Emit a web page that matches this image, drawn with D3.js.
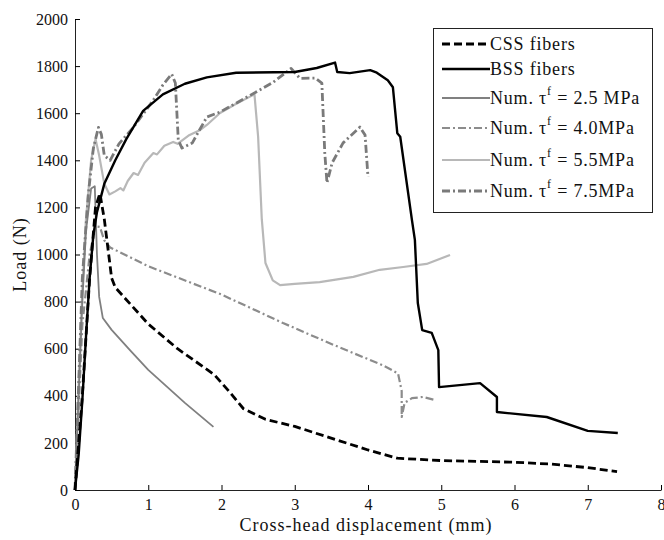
<!DOCTYPE html>
<html>
<head>
<meta charset="utf-8">
<script src="https://cdn.jsdelivr.net/npm/d3@7"></script>
<style>
  body { margin: 0; background: #fff; }
</style>
</head>
<body>
<div id="chart"></div>
<script>
// load-displacement curves, values (mm, N)
const cssFibers = [[0,0],[0.1,400],[0.2,900],[0.28,1200],[0.34,1260],[0.4,1150],[0.5,900],[0.55,860],[1.0,705],[1.4,600],[1.9,490],[2.1,420],[2.3,345],[2.6,300],[3.0,270],[3.6,210],[4.0,170],[4.4,135],[5.0,125],[6.0,118],[6.5,110],[7.0,95],[7.4,78]];
const bssFibers = [[0,0],[0.05,150],[0.1,380],[0.15,650],[0.2,900],[0.25,1080],[0.3,1180],[0.4,1300],[0.55,1400],[0.7,1490],[0.93,1610],[1.2,1680],[1.5,1725],[1.8,1752],[2.2,1772],[3.0,1775],[3.3,1792],[3.55,1815],[3.58,1775],[3.75,1770],[4.03,1783],[4.12,1772],[4.27,1740],[4.34,1710],[4.40,1515],[4.44,1500],[4.6,1146],[4.64,1062],[4.68,794],[4.74,679],[4.87,667],[4.96,594],[4.97,437],[5.53,454],[5.76,395],[5.76,331],[6.44,310],[7.0,251],[7.41,242]];
const num25 = [[0,0],[0.05,400],[0.1,800],[0.15,1100],[0.22,1280],[0.27,1290],[0.3,1000],[0.33,820],[0.38,730],[0.5,680],[0.75,594],[1.0,510],[1.5,370],[1.89,268]];
const num40 = [[0,0],[0.05,350],[0.1,700],[0.2,1000],[0.28,1120],[0.34,1117],[0.4,1060],[0.48,1030],[1.0,950],[2.0,830],[2.84,709],[3.5,620],[4.2,530],[4.41,495],[4.46,420],[4.46,310],[4.5,370],[4.6,390],[4.75,395],[4.9,383]];
const num55 = [[0,0],[0.05,450],[0.1,850],[0.15,1150],[0.22,1400],[0.28,1490],[0.33,1420],[0.4,1300],[0.47,1255],[0.55,1268],[0.62,1282],[0.66,1272],[0.72,1312],[0.8,1346],[0.86,1338],[0.95,1390],[1.07,1431],[1.12,1425],[1.22,1462],[1.34,1478],[1.4,1470],[1.55,1505],[1.71,1529],[1.8,1550],[1.98,1601],[2.2,1640],[2.45,1680],[2.5,1500],[2.55,1150],[2.6,964],[2.7,890],[2.8,870],[3.0,875],[3.34,883],[3.8,905],[4.16,935],[4.48,947],[4.8,960],[5.12,998]];
const num75 = [[0,0],[0.05,450],[0.1,900],[0.18,1250],[0.25,1450],[0.32,1540],[0.36,1510],[0.4,1420],[0.48,1400],[0.6,1470],[0.8,1541],[1.07,1656],[1.2,1720],[1.32,1766],[1.37,1728],[1.41,1486],[1.46,1452],[1.6,1473],[1.8,1584],[1.98,1605],[2.3,1660],[2.7,1730],[2.95,1790],[3.07,1748],[3.28,1749],[3.37,1728],[3.41,1431],[3.44,1304],[3.51,1389],[3.66,1474],[3.89,1541],[3.96,1507],[4.0,1329]];

const xTicks = [0,1,2,3,4,5,6,7,8];
const yTicks = [0,200,400,600,800,1000,1200,1400,1600,1800,2000];

const series = [
  { name: "CSS fibers", data: cssFibers, color: "#000", width: 2.8, dash: "8,4", tau: null },
  { name: "BSS fibers", data: bssFibers, color: "#000", width: 2.4, dash: null, tau: null },
  { name: "2.5 MPa", data: num25, color: "#808080", width: 1.8, dash: null, tau: "2.5 MPa" },
  { name: "4.0MPa", data: num40, color: "#8c8c8c", width: 2.2, dash: "8,3,2,3", tau: "4.0MPa" },
  { name: "5.5MPa", data: num55, color: "#b8b8b8", width: 2.2, dash: null, tau: "5.5MPa" },
  { name: "7.5MPa", data: num75, color: "#7a7a7a", width: 2.8, dash: "8,3,2,3", tau: "7.5MPa" }
];

const FONT = "'Liberation Serif', 'Times New Roman', serif";
const width = 664, height = 540;
const margin = { top: 19, right: 3, bottom: 50, left: 75 };

const svg = d3.select("#chart").append("svg")
  .attr("width", width)
  .attr("height", height)
  .attr("font-family", FONT);

const x = d3.scaleLinear().domain([0, 8]).range([margin.left, width - margin.right]);
const y = d3.scaleLinear().domain([0, 2000]).range([height - margin.bottom, margin.top]);

const line = d3.line().x(d => x(d[0])).y(d => y(d[1]));

// axes, ticks pointing inwards like the original
svg.append("g")
  .attr("transform", `translate(0,${y(0)})`)
  .call(d3.axisBottom(x).tickValues(xTicks).tickFormat(d3.format("d")).tickSizeInner(-5).tickSizeOuter(0).tickPadding(9))
  .call(g => g.attr("font-family", FONT))
  .call(g => g.selectAll("text").style("font-size", "16px").attr("fill", "#111"))
  .call(g => g.select(".domain").attr("stroke", "#222"));

svg.append("g")
  .attr("transform", `translate(${x(0)},0)`)
  .call(d3.axisLeft(y).tickValues(yTicks).tickFormat(d3.format("d")).tickSizeInner(-5).tickSizeOuter(0).tickPadding(7))
  .call(g => g.attr("font-family", FONT))
  .call(g => g.selectAll("text").style("font-size", "16px").attr("fill", "#111"))
  .call(g => g.select(".domain").attr("stroke", "#222"));

svg.append("text")
  .attr("x", (x(0) + x(8)) / 2 - 2)
  .attr("y", 531)
  .attr("text-anchor", "middle")
  .style("font-size", "18px")
  .style("letter-spacing", "1px")
  .attr("fill", "#111")
  .text("Cross-head displacement (mm)");

svg.append("text")
  .attr("transform", `translate(26,${(y(0) + y(2000)) / 2}) rotate(-90)`)
  .attr("text-anchor", "middle")
  .style("font-size", "18px")
  .style("letter-spacing", "1px")
  .attr("fill", "#111")
  .text("Load (N)");

// curves (drawn so the black experimental ones sit on top)
const order = [4, 2, 3, 5, 0, 1];
order.forEach(i => {
  const s = series[i];
  svg.append("path")
    .datum(s.data)
    .attr("fill", "none")
    .attr("stroke", s.color)
    .attr("stroke-width", s.width)
    .attr("stroke-dasharray", s.dash)
    .attr("stroke-linejoin", "round")
    .attr("d", line);
});

// legend
const legend = svg.append("g");
legend.append("rect")
  .attr("x", 433.5).attr("y", 28.5)
  .attr("width", 219).attr("height", 184)
  .attr("fill", "#fff").attr("stroke", "#222");

const rowY = [44, 69, 98, 128, 160, 191];
series.forEach((s, i) => {
  const ly = rowY[i];
  legend.append("line")
    .attr("x1", 442).attr("x2", 490)
    .attr("y1", ly).attr("y2", ly)
    .attr("stroke", s.color)
    .attr("stroke-width", s.width)
    .attr("stroke-dasharray", s.dash);
  const t = legend.append("text")
    .attr("x", 490).attr("y", ly + 6)
    .style("font-size", "18px")
    .style("letter-spacing", "0.8px")
    .attr("fill", "#111");
  if (s.tau === null) {
    t.text(s.name);
  } else {
    t.append("tspan").text("Num. \u03c4");
    t.append("tspan").attr("dy", -9).style("font-size", "12px").text("f");
    t.append("tspan").attr("dy", 9).text(" = " + s.tau);
  }
});
</script>
</body>
</html>
